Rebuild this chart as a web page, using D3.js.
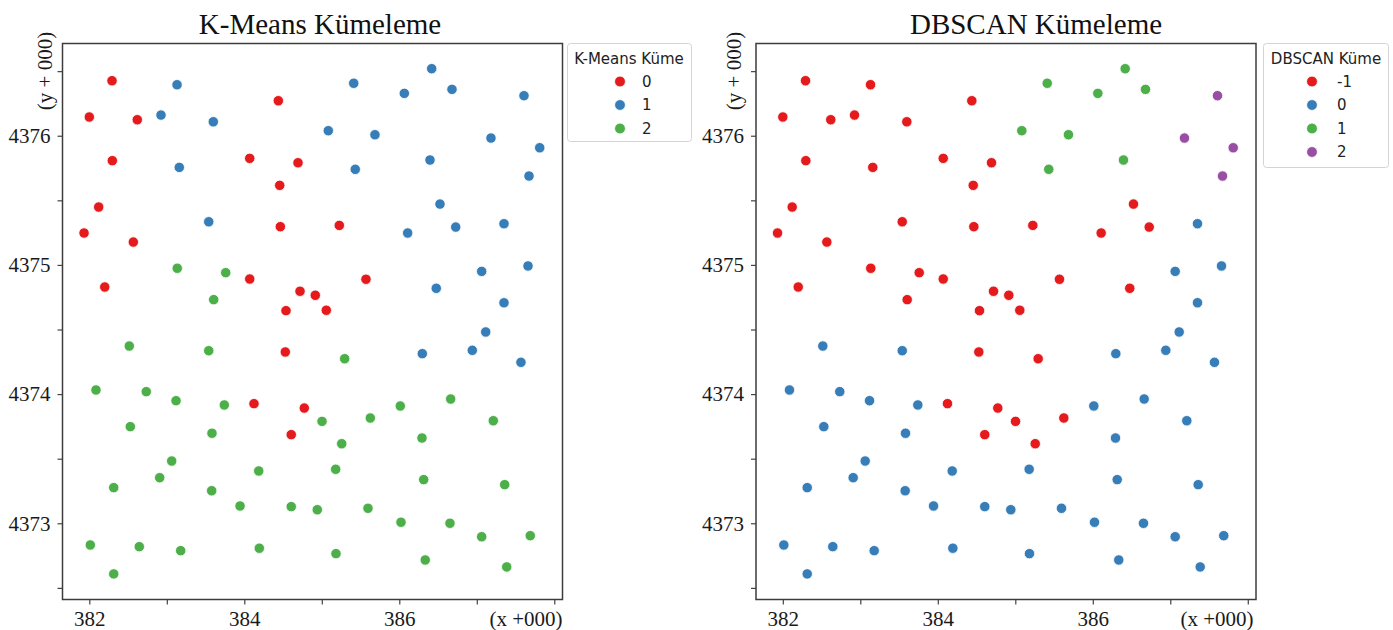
<!DOCTYPE html>
<html>
<head>
<meta charset="utf-8">
<script src="https://cdn.jsdelivr.net/npm/d3@7"></script>
<style>
  html, body { margin: 0; padding: 0; background: #ffffff; }
  svg { display: block; }
</style>
</head>
<body>
<svg id="chart" width="1393" height="630"></svg>
<script>
// ---------------- DATA ----------------
const xValues = [
  382.293, 383.132, 382.000, 382.619, 382.925, 383.600, 384.439, 382.297, 383.161, 384.070,
  384.693, 384.457, 382.121, 381.932, 382.568, 383.541, 384.465, 383.135, 383.760, 384.070,
  382.199, 383.605, 384.719, 384.538, 386.418, 385.412, 386.065, 386.680, 387.609, 385.084,
  385.686, 387.183, 387.812, 386.396, 385.432, 387.674, 386.525, 385.226, 386.108, 386.728,
  387.351, 387.063, 387.661, 385.570, 386.477, 387.351, 384.916, 385.058, 382.516, 383.541,
  384.529, 382.086, 382.735, 383.119, 383.742, 384.125, 384.774, 382.529, 383.583, 384.606,
  383.063, 382.908, 384.186, 382.315, 383.579, 383.945, 384.606, 382.013, 382.645, 383.179,
  384.194, 382.315, 387.115, 386.297, 386.942, 387.570, 385.295, 386.663, 386.013, 385.626,
  385.003, 387.213, 386.293, 385.257, 385.179, 386.315, 387.360, 384.942, 385.596, 386.022,
  386.654, 387.063, 387.690, 385.183, 386.335, 387.386
];
const yValues = [
  4376.426, 4376.395, 4376.145, 4376.124, 4376.160, 4376.108, 4376.271, 4375.807, 4375.755, 4375.825,
  4375.791, 4375.616, 4375.448, 4375.247, 4375.177, 4375.334, 4375.296, 4374.974, 4374.940, 4374.891,
  4374.829, 4374.731, 4374.796, 4374.646, 4376.519, 4376.406, 4376.328, 4376.359, 4376.310, 4376.039,
  4376.008, 4375.982, 4375.907, 4375.812, 4375.740, 4375.688, 4375.471, 4375.306, 4375.247, 4375.293,
  4375.319, 4374.950, 4374.992, 4374.889, 4374.819, 4374.707, 4374.765, 4374.649, 4374.372, 4374.336,
  4374.326, 4374.032, 4374.019, 4373.949, 4373.916, 4373.926, 4373.892, 4373.748, 4373.697, 4373.686,
  4373.482, 4373.353, 4373.405, 4373.276, 4373.252, 4373.134, 4373.129, 4372.832, 4372.819, 4372.788,
  4372.807, 4372.608, 4374.481, 4374.313, 4374.339, 4374.246, 4374.274, 4373.962, 4373.908, 4373.815,
  4373.789, 4373.794, 4373.660, 4373.616, 4373.418, 4373.338, 4373.299, 4373.105, 4373.116, 4373.008,
  4373.000, 4372.896, 4372.904, 4372.765, 4372.716, 4372.662
];
const kmeansLabels = [
  0, 1, 0, 0, 1, 1, 0, 0, 1, 0,
  0, 0, 0, 0, 0, 1, 0, 2, 2, 0,
  0, 2, 0, 0, 1, 1, 1, 1, 1, 1,
  1, 1, 1, 1, 1, 1, 1, 0, 1, 1,
  1, 1, 1, 0, 1, 1, 0, 0, 2, 2,
  0, 2, 2, 2, 2, 0, 0, 2, 2, 0,
  2, 2, 2, 2, 2, 2, 2, 2, 2, 2,
  2, 2, 1, 1, 1, 1, 2, 2, 2, 2,
  2, 2, 2, 2, 2, 2, 2, 2, 2, 2,
  2, 2, 2, 2, 2, 2
];
const dbscanLabels = [
  -1, -1, -1, -1, -1, -1, -1, -1, -1, -1,
  -1, -1, -1, -1, -1, -1, -1, -1, -1, -1,
  -1, -1, -1, -1, 1, 1, 1, 1, 2, 1,
  1, 2, 2, 1, 1, 2, -1, -1, -1, -1,
  0, 0, 0, -1, -1, 0, -1, -1, 0, 0,
  -1, 0, 0, 0, 0, -1, -1, 0, 0, -1,
  0, 0, 0, 0, 0, 0, 0, 0, 0, 0,
  0, 0, 0, 0, 0, 0, -1, 0, 0, -1,
  -1, 0, 0, -1, 0, 0, 0, 0, 0, 0,
  0, 0, 0, 0, 0, 0
];
const kmeansClusters = [0, 1, 2];
const dbscanClusters = [-1, 0, 1, 2];
const xTicks = [382, 383, 384, 385, 386, 387, 388];
const xTickLabels = ["382", "", "384", "", "386", "", ""];
const yTicks = [4372.5, 4373, 4373.5, 4374, 4374.5, 4375, 4375.5, 4376, 4376.5];
const yTickLabels = ["", "4373", "", "4374", "", "4375", "", "4376", ""];
const panelTitles = ["K-Means Kümeleme", "DBSCAN Kümeleme"];
const legendTitles = ["K-Means Küme", "DBSCAN Küme"];
const xAxisNote = "(x +000)";
const yAxisNote = "(y + 000)";

// ---------------- STYLE / LAYOUT ----------------
const set1 = ["#e41a1c", "#377eb8", "#4daf4a", "#984ea3"];
const serif = "'Liberation Serif', 'Times New Roman', serif";
const sans = "'DejaVu Sans', sans-serif";

const svg = d3.select("#chart");
svg.append("rect").attr("width", 1393).attr("height", 630).attr("fill", "#fff");

const plotW = 500, plotH = 556;
const xDomain = [381.654, 388.106];
const yDomain = [4372.410, 4376.714];

const panels = [
  { left: 62.5, top: 43.5, titleX: 320, labels: kmeansLabels, clusters: kmeansClusters,
    colorOf: c => set1[c], legend: { x: 567.5, y: 43.5, w: 124, h: 98, titleX: 629, markerX: 620, textX: 642 },
    yNoteX: 45, xNoteX: 526, title: panelTitles[0], legendTitle: legendTitles[0] },
  { left: 756, top: 43.5, titleX: 1036, labels: dbscanLabels, clusters: dbscanClusters,
    colorOf: c => set1[c + 1], legend: { x: 1263.5, y: 43.5, w: 125, h: 124, titleX: 1326, markerX: 1312, textX: 1337 },
    yNoteX: 734, xNoteX: 1217, title: panelTitles[1], legendTitle: legendTitles[1] }
];

const points = xValues.map((x, i) => ({ x, y: yValues[i], i }));

panels.forEach(p => {
  const xScale = d3.scaleLinear().domain(xDomain).range([0, plotW]);
  const yScale = d3.scaleLinear().domain(yDomain).range([plotH, 0]);
  const g = svg.append("g").attr("transform", `translate(${p.left},${p.top})`);

  // axes
  const xAxis = d3.axisBottom(xScale).tickValues(xTicks)
    .tickFormat((d, i) => xTickLabels[i]).tickSize(5).tickPadding(7);
  const yAxis = d3.axisLeft(yScale).tickValues(yTicks)
    .tickFormat((d, i) => yTickLabels[i]).tickSize(5).tickPadding(7);

  const gx = g.append("g").attr("transform", `translate(0,${plotH})`).call(xAxis);
  const gy = g.append("g").call(yAxis);
  [gx, gy].forEach(a => {
    a.select(".domain").remove();
    a.selectAll(".tick line").attr("stroke", "#444").attr("stroke-width", 1.2);
    a.selectAll(".tick text").attr("font-family", serif).attr("font-size", 21).attr("fill", "#1a1a1a");
  });

  // points
  g.append("g").selectAll("circle").data(points).join("circle")
    .attr("cx", d => xScale(d.x))
    .attr("cy", d => yScale(d.y))
    .attr("r", 5.2)
    .attr("fill", d => p.colorOf(p.labels[d.i]))
    .attr("stroke", "#fff")
    .attr("stroke-width", 0.8);

  // frame
  g.append("rect").attr("width", plotW).attr("height", plotH)
    .attr("fill", "none").attr("stroke", "#3c3c3c").attr("stroke-width", 1.5);

  // title
  svg.append("text").attr("x", p.titleX).attr("y", 34)
    .attr("text-anchor", "middle").attr("font-family", serif).attr("font-size", 29)
    .attr("fill", "#111").text(p.title);

  // axis notes
  svg.append("text").attr("x", p.xNoteX).attr("y", 626)
    .attr("text-anchor", "middle").attr("font-family", serif).attr("font-size", 21)
    .attr("fill", "#1a1a1a").text(xAxisNote);
  svg.append("text")
    .attr("transform", `translate(${p.yNoteX},71) rotate(-90)`)
    .attr("text-anchor", "middle").attr("dominant-baseline", "central")
    .attr("font-family", serif).attr("font-size", 21)
    .attr("fill", "#1a1a1a").text(yAxisNote);

  // legend
  const L = p.legend;
  const lg = svg.append("g");
  lg.append("rect").attr("x", L.x).attr("y", L.y).attr("width", L.w).attr("height", L.h)
    .attr("rx", 3).attr("fill", "#fff").attr("stroke", "#d4d4d4").attr("stroke-width", 1);
  lg.append("text").attr("x", L.titleX).attr("y", 64)
    .attr("text-anchor", "middle").attr("font-family", sans).attr("font-size", 15)
    .attr("fill", "#222").text(p.legendTitle);
  const entryY = d3.scaleLinear().domain([0, 1]).range([81.5, 105]);
  p.clusters.forEach((c, k) => {
    const cy = entryY(k);
    lg.append("circle").attr("cx", L.markerX).attr("cy", cy).attr("r", 5.4)
      .attr("fill", p.colorOf(c)).attr("stroke", "#fff").attr("stroke-width", 0.8);
    lg.append("text").attr("x", L.textX).attr("y", cy).attr("dy", "0.36em")
      .attr("font-family", sans).attr("font-size", 15).attr("fill", "#222").text(String(c));
  });
});
</script>
</body>
</html>
